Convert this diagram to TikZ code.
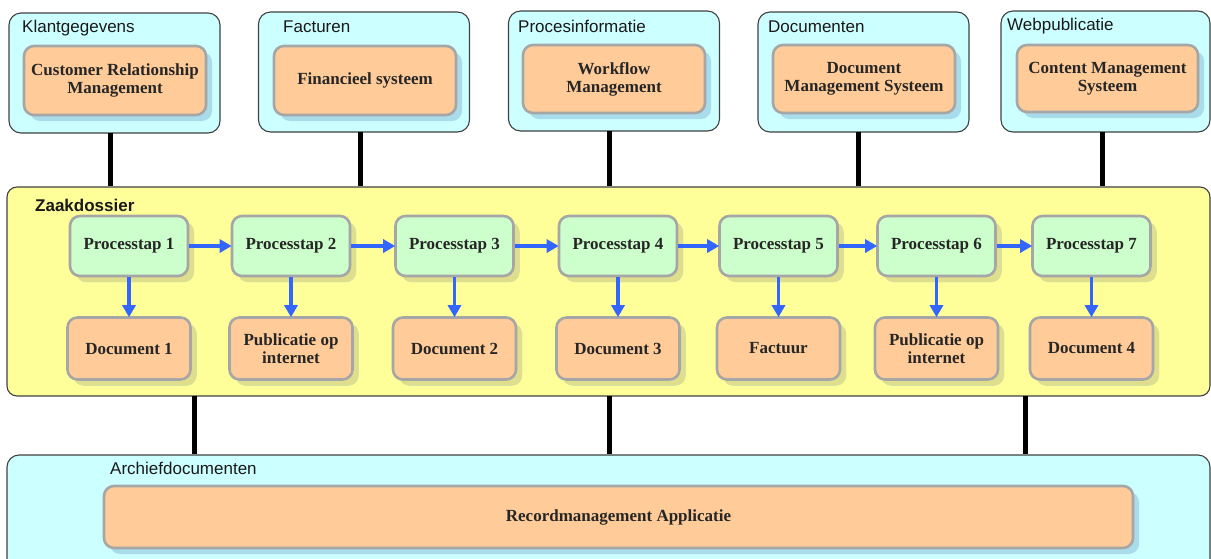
\documentclass[tikz,border=0pt]{standalone}
\usepackage{fontspec}
\setmainfont{Liberation Serif}
\setsansfont{Liberation Sans}
\usetikzlibrary{arrows.meta,positioning,shadows}
\definecolor{sysbg}{HTML}{CCFFFF}
\definecolor{sysshade}{HTML}{A8DCEA}
\definecolor{zaakbg}{HTML}{FFFF99}
\definecolor{zaakshade}{HTML}{DEDE8C}
\definecolor{appc}{HTML}{FFCC99}
\definecolor{stepc}{HTML}{CCFFCC}
\definecolor{rimc}{HTML}{A6A6A6}
\definecolor{flowc}{HTML}{3366FF}
\tikzset{
  area/.style={draw=black!75,line width=1.1pt,rounded corners=12pt,fill=sysbg,inner sep=0pt},
  hdr/.style={anchor=west,inner sep=0pt,font=\fontsize{17}{19}\selectfont\sffamily,text=black!90},
  app/.style={draw=rimc,line width=2.6pt,rounded corners=10pt,fill=appc,align=center,inner sep=2pt,
    font=\fontsize{17}{18}\selectfont\bfseries,text=black!85,
    drop shadow={fill=sysshade,opacity=1,shadow xshift=6pt,shadow yshift=-6pt}},
  stp/.style={app,fill=stepc,minimum width=118pt,minimum height=60pt,
    drop shadow={fill=zaakshade,opacity=1,shadow xshift=6pt,shadow yshift=-6pt}},
  doc/.style={app,minimum width=123pt,minimum height=62pt,
    drop shadow={fill=zaakshade,opacity=1,shadow xshift=6pt,shadow yshift=-6pt}},
  link/.style={line width=5pt,black},
  flow/.style={-{Triangle[length=12pt,width=13pt]},line width=3.2pt,flowc,shorten >=-1pt}
}
\begin{document}
\begin{tikzpicture}[x=1pt,y=-1pt]
\clip (0,0) rectangle (1211,558);
% bronsystemen
\node[area,minimum width=211pt,minimum height=120pt] (K) at (114.5,73) {};
\node[area,minimum width=211pt,minimum height=120pt] (F) at (364,72) {};
\node[area,minimum width=211pt,minimum height=120pt] (P) at (614,71) {};
\node[area,minimum width=211pt,minimum height=120pt] (D) at (863.5,72) {};
\node[area,minimum width=209pt,minimum height=121pt] (W) at (1105.5,71.5) {};
\node[hdr] (hK) at (22,28) {Klantgegevens};
\node[hdr] (hF) at (283,27) {Facturen};
\node[hdr] (hP) at (518,26) {Procesinformatie};
\node[hdr] (hD) at (768,27) {Documenten};
\node[hdr] (hW) at (1007,26) {Webpublicatie};
\node[app,minimum width=182pt,minimum height=69pt] (crm) at (115,80.5) {Customer Relationship\\Management};
\node[app,minimum width=182pt,minimum height=69pt] (fin) at (365,80.5) {Financieel systeem};
\node[app,minimum width=182pt,minimum height=68pt] (wfm) at (614,79) {Workflow\\Management};
\node[app,minimum width=182pt,minimum height=68pt] (dms) at (864,79) {Document\\Management Systeem};
\node[app,minimum width=181pt,minimum height=67pt] (cms) at (1107.5,78.5) {Content Management\\Systeem};
% zaakdossier
\node[area,fill=zaakbg,rounded corners=10pt,minimum width=1203pt,minimum height=209pt] (Z) at (608.5,291.5) {};
\node[hdr,font=\fontsize{17}{19}\selectfont\sffamily\bfseries] (hZ) at (35,205) {Zaakdossier};
\foreach \i/\x/\t in {1/129/{Document 1},2/291/{Publicatie op\\internet},3/454.5/{Document 2},
    4/618/{Document 3},5/778.5/{Factuur},6/936.5/{Publicatie op\\internet},7/1091.5/{Document 4}}{
  \node[stp] (p\i) at (\x,246) {Processtap \i};
  \node[doc] (d\i) at (\x,348.5) {\t};
}
\foreach \i in {1,...,7} \draw[flow] (p\i) -- (d\i);
\foreach \i [evaluate=\i as \j using int(\i+1)] in {1,...,6} \draw[flow] (p\i) -- (p\j);
% archief
\node[area,minimum width=1203pt,minimum height=130pt] (A) at (608.5,520) {};
\node[hdr] (hA) at (110,468) {Archiefdocumenten};
\node[app,minimum width=1029pt,minimum height=62pt] (rma) at (618.5,517) {Recordmanagement Applicatie};
% koppelingen
\coordinate (t1) at (110,133); \coordinate (t2) at (360,132); \coordinate (t3) at (609,131);
\coordinate (t4) at (858,132); \coordinate (t5) at (1102,132);
\foreach \c in {t1,t2,t3,t4,t5} \draw[link] (\c) -- (\c |- Z.north);
\coordinate (b1) at (194,396); \coordinate (b2) at (609,396); \coordinate (b3) at (1025,396);
\foreach \c in {b1,b2,b3} \draw[link] (\c) -- (\c |- A.north);
\end{tikzpicture}
\end{document}
